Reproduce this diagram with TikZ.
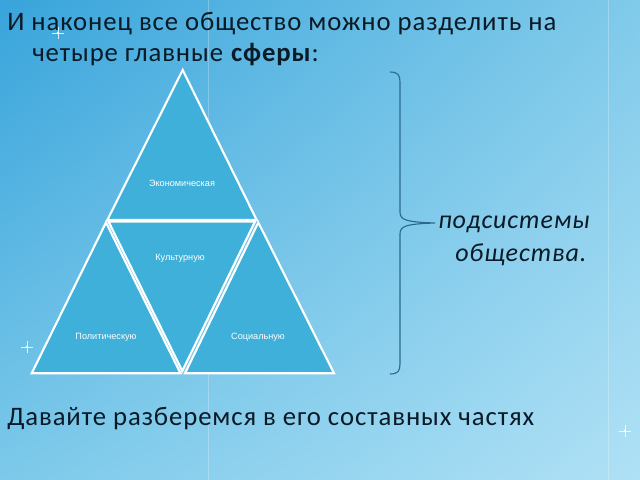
\documentclass[tikz,border=0pt]{standalone}
\usepackage{fontspec}
\setmainfont{Carlito}
\newfontfamily\wfont[LetterSpace=3.4]{Carlito}
\newfontfamily\lblfont{Liberation Sans}
\usetikzlibrary{shadings}

\begin{document}
\begin{tikzpicture}[x=0.025cm,y=-0.025cm]
\definecolor{bgtl}{HTML}{38A4DB}
\definecolor{bgtr}{HTML}{80CAEA}
\definecolor{bgbl}{HTML}{7CC9EA}
\definecolor{bgbr}{HTML}{B0E1F5}
\definecolor{trif}{HTML}{3EB0DA}
\definecolor{brc}{HTML}{2C6A8C}
\definecolor{ink}{HTML}{0A1A26}
\tikzset{
  tri/.style={fill=trif, draw=white, line width=1.5pt, line join=miter},
  lbl/.style={text=white, font=\lblfont\fontsize{6.5}{8}\selectfont, inner sep=0pt},
  big/.style={text=ink, font=\wfont\fontsize{19}{22}\selectfont, inner sep=0pt, anchor=base west},
  itl/.style={big, font=\wfont\itshape\fontsize{18.5}{22}\selectfont},
}
%% --- background ---
\shade[upper left=bgtl, upper right=bgtr, lower left=bgbl, lower right=bgbr] (0,0) rectangle (640,480);
\useasboundingbox (0,0) rectangle (640,480);
\draw[white, opacity=.25, line width=.4pt] (208,0) -- (208,480);
\draw[white, opacity=.25, line width=.4pt] (608,0) -- (608,480);
%% --- sparkles ---
\foreach \sx/\sy in {58/33, 27/347, 625/431} {
  \draw[white, opacity=.8, line width=.4pt] (\sx-6,\sy) -- (\sx+6,\sy);
  \draw[white, opacity=.8, line width=.4pt] (\sx,\sy-6) -- (\sx,\sy+6);
  \fill[white] (\sx,\sy) circle (1.4);
}
%% --- heading ---
\node[big] (ttl1) at (7,30) {И наконец все общество можно разделить на};
\node[big] (ttl2) at (32,62) {четыре главные \textbf{сферы}:};
%% --- pyramid: four spheres ---
\coordinate (apx) at (182.7,70);
\coordinate (ml) at (107.3,220);
\coordinate (mr) at (256.7,220);
\coordinate (bl) at (31.7,373.3);
\coordinate (bc) at (182.3,371);
\coordinate (br) at (334,373.3);
\draw[tri] (apx) -- (mr) -- (ml) -- cycle;
\draw[tri] (106,222.5) -- (180.5,373.3) -- (bl) -- cycle;
\draw[tri] (108.5,221.5) -- (255,221.5) -- (bc) -- cycle;
\draw[tri] (258.3,222.5) -- (br) -- (185,373.3) -- cycle;
\node[lbl] (econ) at (182,183) {Экономическая};
\node[lbl] (cult) at (180,258) {Культурную};
\node[lbl] (polit) at (106,337) {Политическую};
\node[lbl] (soc) at (258,337) {Социальную};
%% --- brace + caption ---
\coordinate (tip) at (435,223);
\draw[brc, line width=.8pt] (390,72) .. controls (398,72) and (400,75) .. (400,82)
  -- (400,212) .. controls (400,220) and (406,222) .. (tip)
  .. controls (406,224) and (400,226) .. (400,234)
  -- (400,364) .. controls (400,371) and (398,374) .. (390,374);
\node[itl] (subs1) at (438,228) {подсистемы};
\node[itl] (subs2) at (455,261) {общества.};
%% --- footer ---
\node[big] (foot) at (7,425) {Давайте разберемся в его составных частях};
\end{tikzpicture}
\end{document}
